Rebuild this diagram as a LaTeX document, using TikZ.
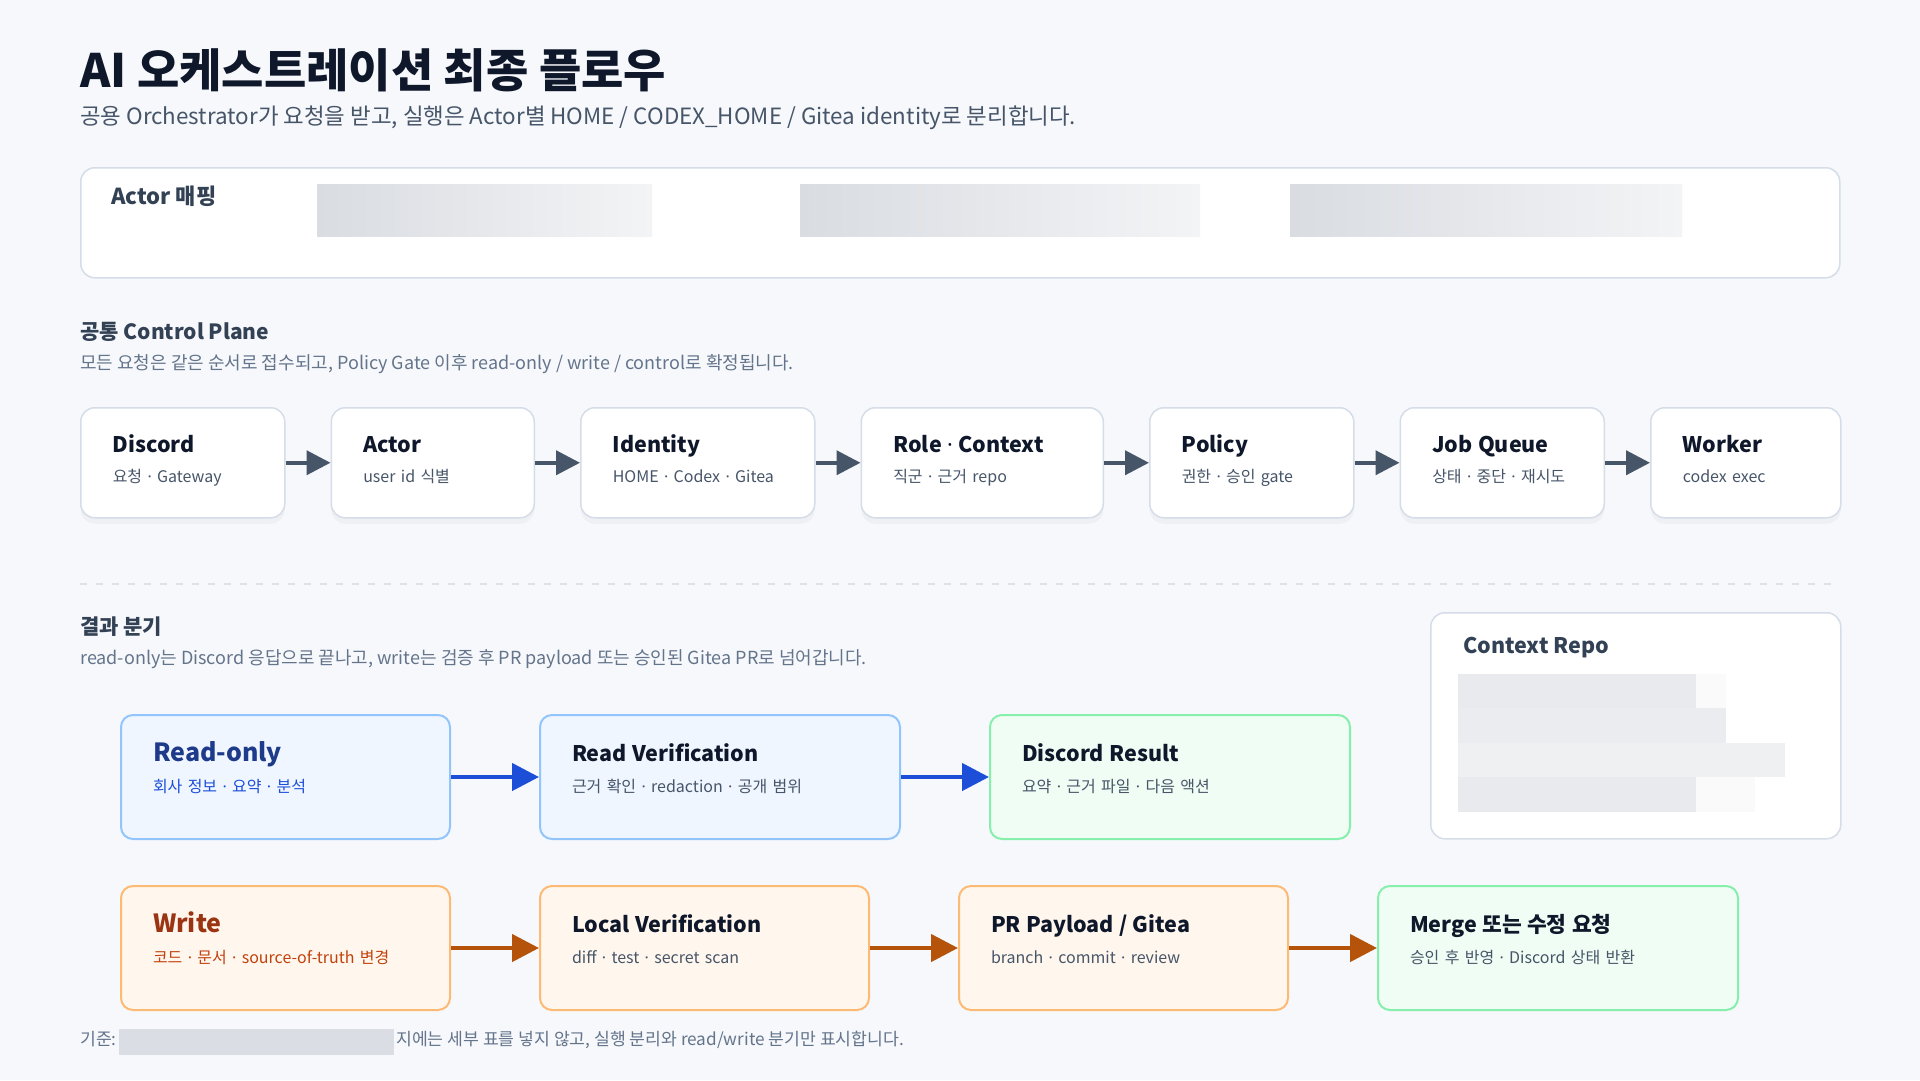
\documentclass[tikz,border=0pt]{standalone}
\usepackage{fontspec}
\setmainfont{Noto Sans CJK KR}
\newfontfamily\latinfont{Noto Sans}
\usepackage{xcolor}
\usetikzlibrary{arrows.meta, positioning, shadows}

\definecolor{pagebg}{HTML}{F6F8FB}
\definecolor{ink}{HTML}{0F172A}
\definecolor{slate}{HTML}{334155}
\definecolor{muted}{HTML}{475569}
\definecolor{soft}{HTML}{64748B}
\definecolor{edge}{HTML}{D5DDE8}
\definecolor{rule}{HTML}{DCE1E8}
\definecolor{blueedge}{HTML}{93C5FD}
\definecolor{bluefill}{HTML}{EFF6FF}
\definecolor{bluedark}{HTML}{1E3A8A}
\definecolor{bluearrow}{HTML}{1D4ED8}
\definecolor{greenedge}{HTML}{86EFAC}
\definecolor{greenfill}{HTML}{F0FDF4}
\definecolor{orangeedge}{HTML}{FDBA74}
\definecolor{orangefill}{HTML}{FFF7ED}
\definecolor{orangedark}{HTML}{9A3412}
\definecolor{orangetext}{HTML}{C2410C}
\definecolor{orangearrow}{HTML}{B45309}
\definecolor{redact}{HTML}{D9DCE1}
\definecolor{redactlight}{HTML}{F3F4F6}
\definecolor{cellA}{HTML}{E8EAED}
\definecolor{cellB}{HTML}{EAECEF}
\definecolor{cellC}{HTML}{EEF0F2}
\definecolor{cellD}{HTML}{FAFAFB}
\definecolor{footblock}{HTML}{DADEE4}

\newcommand{\setfs}[2]{\fontsize{#1}{#2}\selectfont}
\newcommand{\mdot}{{\latinfont ·}}
\newcommand{\stagehead}[2][ink]{{\bfseries\color{#1}\setfs{21.5}{26}#2}}
\newcommand{\bighead}[2][ink]{{\bfseries\color{#1}\setfs{25}{30}#2}}

\begin{document}
\begin{tikzpicture}[
    x=1pt, y=-1pt,
    node distance=45pt,
    every node/.style={inner sep=0pt},
    heading/.style={anchor=base west, font=\bfseries\setfs{21}{25}, text=slate},
    note/.style={anchor=base west, font=\setfs{18}{21}, text=soft},
    stage/.style={
        rectangle,
        rounded corners=14pt,
        draw=edge,
        line width=1.5pt,
        fill=white,
        align=left,
        inner xsep=32pt,
        text height=45pt,
        text depth=65pt,
        font=\setfs{16}{30},
        text=muted,
        drop shadow={shadow xshift=0pt, shadow yshift=-6pt, opacity=0.06}
    },
    result/.style={
        rectangle,
        rounded corners=12pt,
        line width=2pt,
        align=left,
        inner xsep=32pt,
        text height=46pt,
        text depth=78pt,
        font=\setfs{16}{31},
        text=muted
    },
    readbox/.style={result, draw=blueedge, fill=bluefill},
    writebox/.style={result, draw=orangeedge, fill=orangefill},
    donebox/.style={result, draw=greenedge, fill=greenfill},
    panel/.style={rectangle, rounded corners=14pt, draw=edge, line width=1.5pt, fill=white},
    flow/.style={-{Triangle[length=24pt, width=24pt]}, line width=4pt, draw=muted},
    readflow/.style={-{Triangle[length=27pt, width=27pt]}, line width=4.5pt, draw=bluearrow},
    writeflow/.style={-{Triangle[length=27pt, width=27pt]}, line width=4.5pt, draw=orangearrow}
]

\useasboundingbox (0,0) rectangle (1920,1080);
\fill[pagebg] (0,0) rectangle (1920,1080);

\node[anchor=base west, font=\bfseries\setfs{46}{54}, text=ink] (title) at (80,87)
    {AI 오케스트레이션 최종 플로우};
\node[anchor=base west, font=\setfs{22.4}{26}, text=muted] (subtitle) at (80,124)
    {공용 Orchestrator가 요청을 받고, 실행은 Actor별 HOME / CODEX\_HOME / Gitea identity로 분리합니다.};

% actor mapping panel
\node[panel, minimum width=1759pt, minimum height=110pt, anchor=north west] (actormap) at (80,167) {};
\node[anchor=base west, font=\bfseries\setfs{22}{26}, text=slate] (actormaplabel) at (111,204) {Actor 매핑};
\shade[left color=redact, right color=redactlight] (317,184) rectangle (652,236);
\shade[left color=redact, right color=redactlight] (800,184) rectangle (1200,236);
\shade[left color=redact, right color=redactlight] (1290,184) rectangle (1682,236);

% control plane
\node[heading] (planehead) at (80,339) {공통 Control Plane};
\node[note] (planenote) at (80,369)
    {모든 요청은 같은 순서로 접수되고, Policy Gate 이후 read-only / write / control로 확정됩니다.};

\node[stage, text width=140pt, anchor=north west] (discord) at (80,407)
    {\stagehead{Discord}\\ 요청 \mdot{} Gateway};
\node[stage, text width=139pt, right=of discord] (actor)
    {\stagehead{Actor}\\ user id 식별};
\node[stage, text width=170pt, right=of actor] (identity)
    {\stagehead{Identity}\\ HOME \mdot{} Codex \mdot{} Gitea};
\node[stage, text width=178pt, right=of identity] (rolectx)
    {\stagehead{Role \mdot{} Context}\\ 직군 \mdot{} 근거 repo};
\node[stage, text width=140pt, right=of rolectx] (policy)
    {\stagehead{Policy}\\ 권한 \mdot{} 승인 gate};
\node[stage, text width=140pt, right=of policy] (jobqueue)
    {\stagehead{Job Queue}\\ 상태 \mdot{} 중단 \mdot{} 재시도};
\node[stage, text width=126pt, right=of jobqueue] (worker)
    {\stagehead{Worker}\\ codex exec};

\draw[flow] (discord) -- (actor);
\draw[flow] (actor) -- (identity);
\draw[flow] (identity) -- (rolectx);
\draw[flow] (rolectx) -- (policy);
\draw[flow] (policy) -- (jobqueue);
\draw[flow] (jobqueue) -- (worker);

\draw[rule, line width=2pt, dash pattern=on 7pt off 9pt] (80,584) -- (1839,584);

% result branches
\node[heading] (branchhead) at (80,634) {결과 분기};
\node[note] (branchnote) at (80,664)
    {read-only는 Discord 응답으로 끝나고, write는 검증 후 PR payload 또는 승인된 Gitea PR로 넘어갑니다.};

\node[panel, minimum width=410pt, minimum height=226pt, anchor=north west] (ctxrepo) at (1430,612) {};
\node[anchor=base west, font=\bfseries\setfs{21.5}{26}, text=slate] (ctxrepolabel) at (1463,653) {Context Repo};
\fill[cellA] (1458,674) rectangle (1696,708);
\fill[cellD] (1696,674) rectangle (1726,708);
\fill[cellB] (1458,708) rectangle (1726,743);
\fill[cellC] (1458,743) rectangle (1785,777);
\fill[cellA] (1458,777) rectangle (1696,812);
\fill[cellD] (1696,777) rectangle (1755,812);

\node[readbox, text width=265pt, anchor=north west] (readonly) at (120,714)
    {\bighead[bluedark]{Read-only}\\ {\color{bluearrow}회사 정보 \mdot{} 요약 \mdot{} 분석}};
\node[readbox, text width=296pt, right=88pt of readonly] (readverify)
    {\stagehead{Read Verification}\\ 근거 확인 \mdot{} redaction \mdot{} 공개 범위};
\node[donebox, text width=296pt, right=88pt of readverify] (discordresult)
    {\stagehead{Discord Result}\\ 요약 \mdot{} 근거 파일 \mdot{} 다음 액션};

\node[writebox, text width=265pt, below=45pt of readonly] (write)
    {\bighead[orangedark]{Write}\\ {\color{orangetext}코드 \mdot{} 문서 \mdot{} source-of-truth 변경}};
\node[writebox, text width=265pt, right=88pt of write] (localverify)
    {\stagehead{Local Verification}\\ diff \mdot{} test \mdot{} secret scan};
\node[writebox, text width=265pt, right=88pt of localverify] (prpayload)
    {\stagehead{PR Payload / Gitea}\\ branch \mdot{} commit \mdot{} review};
\node[donebox, text width=296pt, right=88pt of prpayload] (merge)
    {\stagehead{Merge 또는 수정 요청}\\ 승인 후 반영 \mdot{} Discord 상태 반환};

\draw[readflow] (readonly) -- (readverify);
\draw[readflow] (readverify) -- (discordresult);
\draw[writeflow] (write) -- (localverify);
\draw[writeflow] (localverify) -- (prpayload);
\draw[writeflow] (prpayload) -- (merge);

% footer
\node[anchor=base west, font=\setfs{17.2}{20}, text=soft] (footlabel) at (80,1045) {기준:};
\fill[footblock] (119,1029) rectangle (394,1055);
\node[anchor=base west, font=\setfs{17.2}{20}, text=soft] (foottext) at (396,1045)
    {지에는 세부 표를 넣지 않고, 실행 분리와 read/write 분기만 표시합니다.};

\end{tikzpicture}
\end{document}
